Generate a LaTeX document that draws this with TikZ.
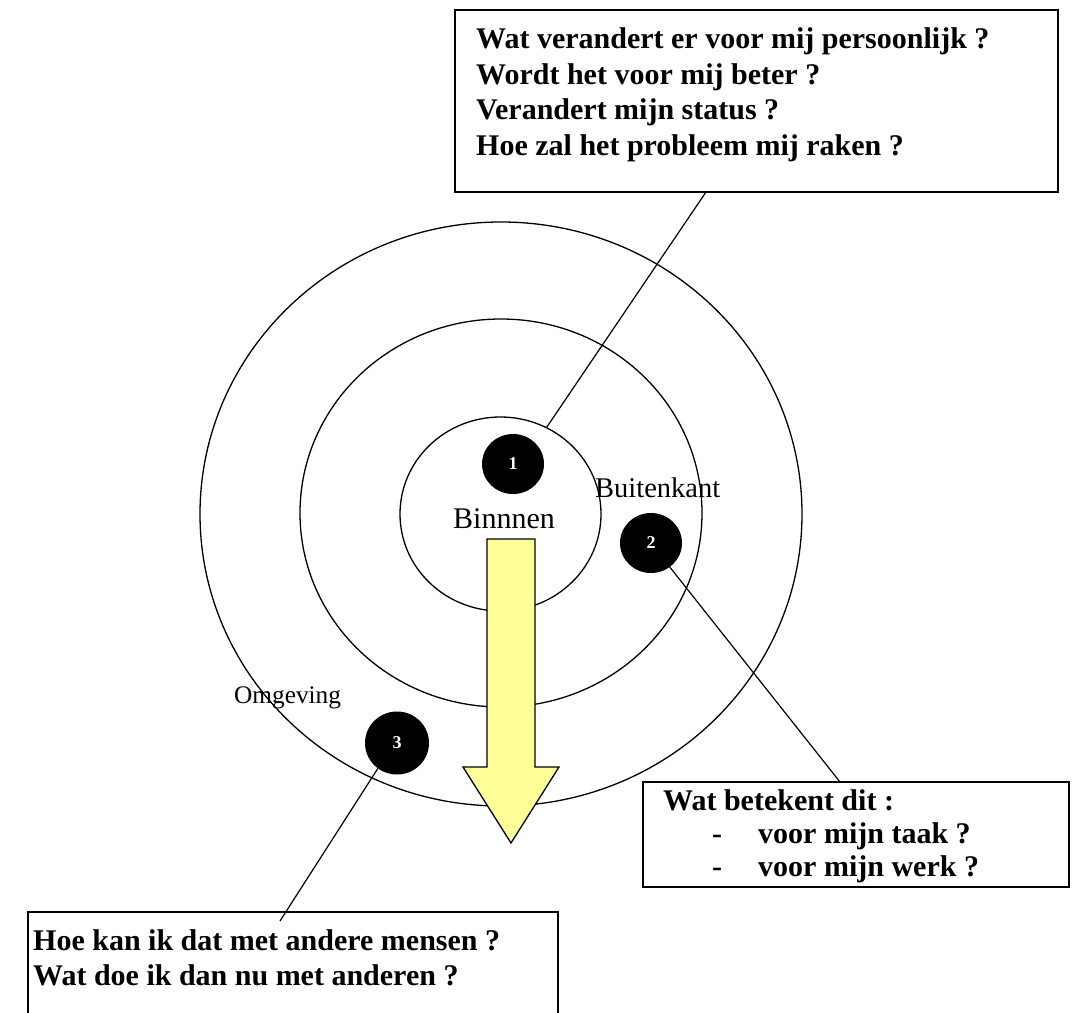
\documentclass[tikz,border=0pt]{standalone}
\usepackage{fontspec}
\setmainfont{Liberation Serif}
\usetikzlibrary{shapes.geometric,calc}
\definecolor{arrowyellow}{RGB}{255,255,153}
\begin{document}
\begin{tikzpicture}[x=1pt,y=-1pt,
  ring/.style={draw, ellipse, line width=1.3pt, inner sep=0pt, outer sep=0pt},
  dot/.style={fill=black, ellipse, inner sep=0pt, outer sep=0pt,
    minimum width=62pt, minimum height=60pt, text=white,
    font=\bfseries\fontsize{18}{18}\selectfont},
  callout/.style={draw, line width=1.3pt, fill=white, inner sep=0pt,
    outer sep=0pt, anchor=north west},
  qline/.style={anchor=base west, inner sep=0pt,
    font=\bfseries\fontsize{30}{35}\selectfont},
  ringlabel/.style={anchor=base west, inner sep=0pt},
  lead/.style={line width=1.2pt},
  bigarrow/.style={draw, line width=1.3pt, fill=arrowyellow, line join=miter},
  ]
\useasboundingbox (0,0) rectangle (1073,1012);
\clip (0,0) rectangle (1073,1012);

% three rings
\node[ring, minimum width=602pt, minimum height=584pt] (outer) at (501,514) {};
\node[ring, minimum width=402pt, minimum height=388pt] (middle) at (501,513) {};
\node[ring, minimum width=201pt, minimum height=194pt] (inner) at (500.5,514) {};

% ring labels
\node[ringlabel, font=\fontsize{30}{30}\selectfont] (lblin) at (453,528) {Binnnen};
\node[ringlabel, font=\fontsize{28.5}{28.5}\selectfont] (lblmid) at (595,497) {Buitenkant};
\node[ringlabel, font=\fontsize{25.3}{25.3}\selectfont] (lblout) at (234,703) {Omgeving};

% question boxes
\node[callout, minimum width=603pt, minimum height=182pt] (box1) at (455,10) {};
\node[callout, minimum width=426pt, minimum height=105pt] (box2) at (643,782) {};
\node[callout, minimum width=530pt, minimum height=130pt] (box3) at (28,912) {};

\node[qline] (q1a) at (476,48) {Wat verandert er voor mij persoonlijk ?};
\node[qline] (q1b) at (476,84) {Wordt het voor mij beter ?};
\node[qline] (q1c) at (476,119) {Verandert mijn status ?};
\node[qline] (q1d) at (476,155) {Hoe zal het probleem mij raken ?};

\node[qline] (q2a) at (663,810) {Wat betekent dit :};
\node[qline] (q2b1) at (712,843) {-};
\node[qline] (q2b) at (758,843) {voor mijn taak ?};
\node[qline] (q2c1) at (712,876) {-};
\node[qline] (q2c) at (758,876) {voor mijn werk ?};

\node[qline] (q3a) at (33,950) {Hoe kan ik dat met andere mensen ?};
\node[qline] (q3b) at (33,985) {Wat doe ik dan nu met anderen ?};

% numbered markers
\node[dot] (d1) at (513,464) {1};
\node[dot] (d2) at (651,543) {2};
\node[dot, minimum width=64pt, minimum height=63pt] (d3) at (397,743) {3};

% leader lines
\coordinate (e1) at ([xshift=251pt]box1.south west);
\coordinate (e2) at ([xshift=197pt]box2.north west);
\coordinate (e3) at (280,921);
\draw[lead] (e1) -- (inner.62);
\draw[lead] (d2.-52) -- (e2);
\draw[lead] (d3.-127) -- (e3);

% direction arrow
\draw[bigarrow] (487,539) -- (535,539) -- (535,767) -- (559,767) -- (511,843)
  -- (463,767) -- (487,767) -- cycle;
\end{tikzpicture}
\end{document}
